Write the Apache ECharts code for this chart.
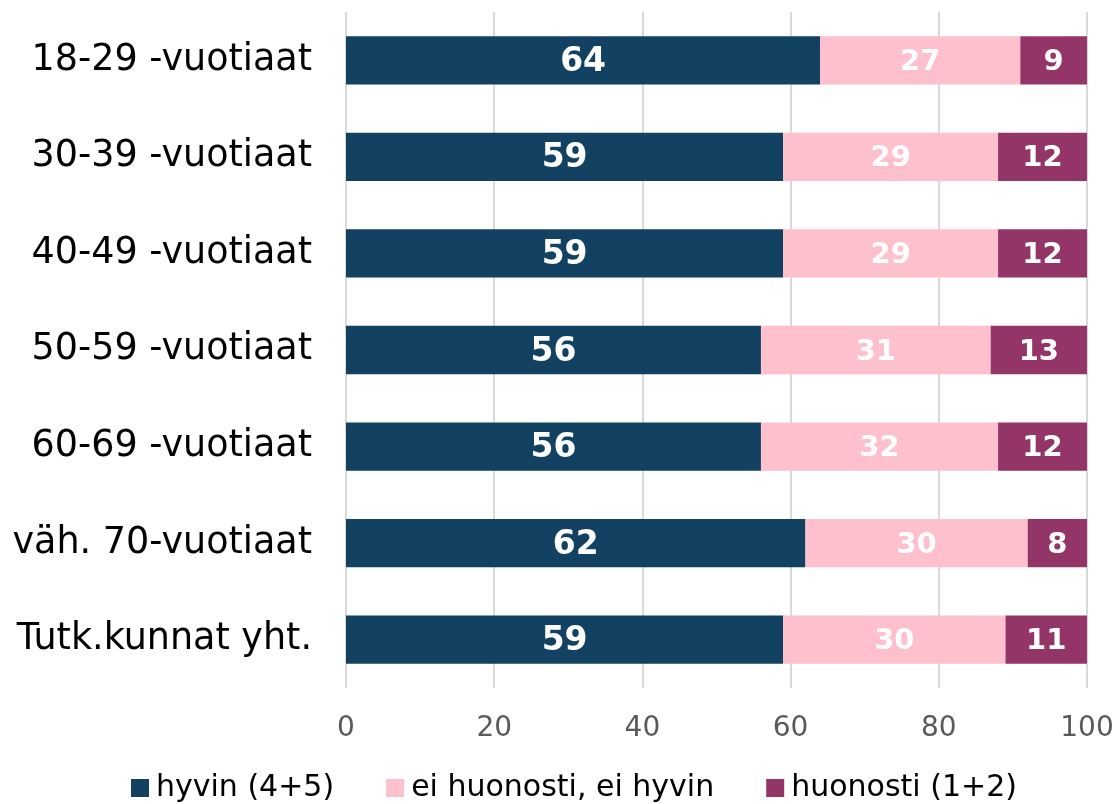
<!DOCTYPE html>
<html>
<head>
    <meta charset="utf-8">
    <title>Ikäryhmät</title>
    <script src="https://cdn.jsdelivr.net/npm/echarts@6/dist/echarts.min.js"></script>
    <style>
        html, body {margin: 0; padding: 0; background: #fff;}
        #main {width: 1117px; height: 804px;}
    </style>
</head>
<body>
<div id="main"></div>
<script type="text/javascript">
    var categories = ['18-29 -vuotiaat', '30-39 -vuotiaat', '40-49 -vuotiaat', '50-59 -vuotiaat',
        '60-69 -vuotiaat', 'väh. 70-vuotiaat', 'Tutk.kunnat yht.'];
    var hyvin = [64, 59, 59, 56, 56, 62, 59];
    var eiHuonosti = [27, 29, 29, 31, 32, 30, 30];
    var huonosti = [9, 12, 12, 13, 12, 8, 11];
    var seriesNames = ['hyvin (4+5)', 'ei huonosti, ei hyvin', 'huonosti (1+2)'];
    var xTicks = [0, 20, 40, 60, 80, 100];

    var myChart = echarts.init(document.getElementById('main'));

    function barLabel(size) {
        return {
            show: true,
            position: 'inside',
            color: '#fff',
            fontWeight: 'bold',
            fontSize: size,
            fontFamily: 'DejaVu Sans',
            offset: [0, 2]
        };
    }

    var option = {
        animation: false,
        grid: {left: 346, right: 30, top: 12, bottom: 116},
        legend: {
            top: 773,
            left: 131,
            padding: 0,
            itemWidth: 18,
            itemHeight: 18,
            itemGap: 52,
            icon: 'rect',
            textStyle: {fontSize: 30, color: '#000', fontFamily: 'DejaVu Sans', padding: [0, 0, 0, 2]},
            data: seriesNames
        },
        xAxis: {
            type: 'value',
            min: 0,
            max: 100,
            interval: 20,
            axisLine: {show: false},
            axisTick: {show: false},
            splitLine: {lineStyle: {color: '#d9d9d9', width: 2}},
            axisLabel: {
                fontSize: 28,
                color: '#595959',
                margin: 27,
                fontFamily: 'DejaVu Sans',
                formatter: function (v) { return xTicks.indexOf(v) >= 0 ? v : ''; }
            }
        },
        yAxis: {
            type: 'category',
            inverse: true,
            data: categories,
            axisLine: {show: false},
            axisTick: {show: false},
            axisLabel: {fontSize: 36.5, color: '#000', margin: 34, fontFamily: 'DejaVu Sans', padding: [4, 0, 0, 0]}
        },
        series: [
            {
                name: seriesNames[0],
                type: 'bar',
                stack: 'all',
                data: hyvin,
                barCategoryGap: '50%',
                itemStyle: {color: '#134162'},
                label: barLabel(33)
            },
            {
                name: seriesNames[1],
                type: 'bar',
                stack: 'all',
                data: eiHuonosti,
                itemStyle: {color: '#ffc0cd'},
                label: barLabel(29)
            },
            {
                name: seriesNames[2],
                type: 'bar',
                stack: 'all',
                data: huonosti,
                itemStyle: {color: '#943567'},
                label: barLabel(29)
            }
        ]
    };

    myChart.setOption(option);
</script>
</body>
</html>
